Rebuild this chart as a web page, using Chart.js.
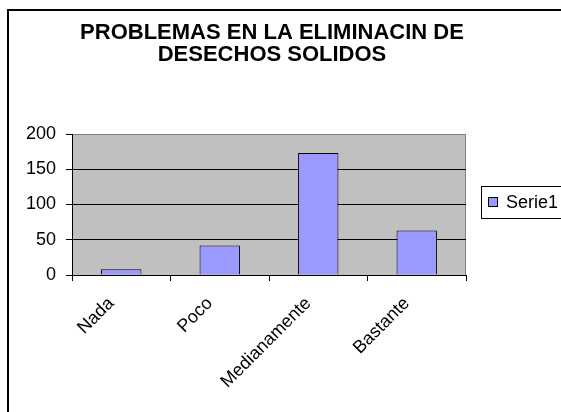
<!DOCTYPE html>
<html>
<head>
<meta charset="utf-8">
<script src="https://cdn.jsdelivr.net/npm/chart.js@4"></script>
<style>
  html, body { margin: 0; padding: 0; background: #fff; }
  #wrap { width: 561px; height: 412px; }
</style>
</head>
<body>
<div id="wrap"><canvas id="chart" width="561" height="412"></canvas></div>
<script>
const titleLines = ['PROBLEMAS EN LA ELIMINACIN DE', 'DESECHOS SOLIDOS'];
const categories = ['Nada', 'Poco', 'Medianamente', 'Bastante'];
const serie1 = [8, 42, 173, 63];
const seriesName = 'Serie1';
const yTicks = [0, 50, 100, 150, 200];

const fontName = '"Liberation Sans", Arial, sans-serif';

// white page, grey plot area, frame, title and legend box
const excelLook = {
    id: 'excelLook',
    beforeDraw(chart) {
        const ctx = chart.ctx;
        const a = chart.chartArea;
        ctx.save();
        ctx.fillStyle = '#fff';
        ctx.fillRect(0, 0, chart.width, chart.height);
        ctx.fillStyle = '#C0C0C0';
        ctx.fillRect(a.left, a.top, a.right - a.left, a.bottom - a.top);
        ctx.strokeStyle = '#808080';
        ctx.lineWidth = 1;
        ctx.beginPath();
        ctx.moveTo(a.left, a.top + 0.5);
        ctx.lineTo(a.right - 0.5, a.top + 0.5);
        ctx.lineTo(a.right - 0.5, a.bottom);
        ctx.stroke();
        ctx.restore();
    },
    afterDraw(chart) {
        const ctx = chart.ctx;
        ctx.save();
        // outer frame (only left and top are inside the picture)
        ctx.strokeStyle = '#000';
        ctx.lineWidth = 2;
        ctx.beginPath();
        ctx.moveTo(8, chart.height + 2);
        ctx.lineTo(8, 10);
        ctx.lineTo(chart.width + 2, 10);
        ctx.stroke();

        // title
        ctx.fillStyle = '#000';
        ctx.font = 'bold 22px ' + fontName;
        ctx.textAlign = 'center';
        ctx.textBaseline = 'middle';
        titleLines.forEach((t, i) => ctx.fillText(t, 272, 33 + i * 22));

        // legend
        const lx = 481, ly = 186, lw = 82, lh = 32;
        ctx.fillStyle = '#fff';
        ctx.fillRect(lx, ly, lw, lh);
        ctx.lineWidth = 1;
        ctx.strokeRect(lx + 0.5, ly + 0.5, lw, lh);
        ctx.fillStyle = '#9999FF';
        ctx.fillRect(488.5, 197.5, 9, 9);
        ctx.strokeRect(488.5, 197.5, 9, 9);
        ctx.fillStyle = '#000';
        ctx.font = '18px ' + fontName;
        ctx.textAlign = 'left';
        ctx.fillText(chart.data.datasets[0].label, 506, 203);
        ctx.restore();
    }
};

new Chart(document.getElementById('chart'), {
    type: 'bar',
    data: {
        labels: categories,
        datasets: [{
            label: seriesName,
            data: serie1,
            backgroundColor: '#9999FF',
            borderColor: '#000',
            borderWidth: 1,
            barPercentage: 0.41,
            categoryPercentage: 1
        }]
    },
    options: {
        responsive: false,
        animation: false,
        layout: { padding: { left: 0, right: 95, top: 134, bottom: 0 } },
        plugins: {
            legend: { display: false },
            title: { display: false },
            tooltip: { enabled: false }
        },
        scales: {
            x: {
                grid: {
                    offset: true,
                    drawOnChartArea: false,
                    tickLength: 6,
                    tickColor: '#000'
                },
                border: { color: '#000', width: 1 },
                ticks: {
                    color: '#000',
                    font: { family: fontName, size: 18 },
                    minRotation: 45,
                    maxRotation: 45,
                    padding: 12,
                    labelOffset: -10
                },
                afterFit(scale) { scale.height = 137; }
            },
            y: {
                min: 0,
                max: 200,
                afterBuildTicks(scale) { scale.ticks = yTicks.map(v => ({ value: v })); },
                grid: {
                    color: c => c.tick && c.tick.value === 200 ? '#808080' : '#000',
                    tickLength: 6,
                    tickColor: '#000'
                },
                border: { color: '#000', width: 1 },
                ticks: {
                    color: '#000',
                    font: { family: fontName, size: 18 },
                    padding: 10
                },
                afterFit(scale) { scale.width = 72; }
            }
        }
    },
    plugins: [excelLook]
});
</script>
</body>
</html>
